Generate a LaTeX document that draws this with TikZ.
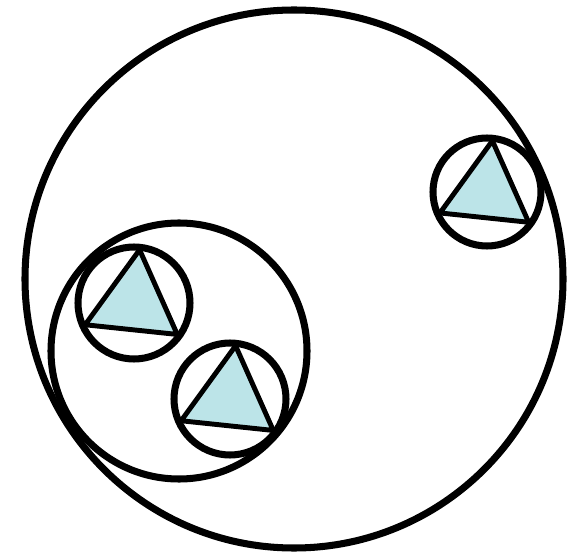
\documentclass[tikz,border=0pt]{standalone}
\usepackage{tikz}
\usetikzlibrary{calc}
\usepackage{xcolor}
\definecolor{TriFill}{HTML}{BCE4E8}
\tikzset{
  ring/.style={draw=black, line width=4pt},
  tri/.style={draw=black, line width=2.8pt, fill=TriFill, line join=round},
}

\begin{document}
\begin{tikzpicture}
    \useasboundingbox (0,0) rectangle (11.6,-11.12);
    \coordinate (outer) at (5.88,-5.58);
    \coordinate (group) at (3.58,-7.02);
    \coordinate (ca) at (2.68,-6.06);
    \coordinate (cb) at (4.60,-7.98);
    \coordinate (cc) at (9.74,-3.84);
    \foreach \c/\r in {ca/1.12, cb/1.12, cc/1.08}{
      \draw[tri, shift={(\c)}] (84:\r-0.05) -- (204:\r-0.05) -- (324:\r-0.05) -- cycle;
      \draw[ring] (\c) circle (\r);
    }
    \draw[ring] (group) circle (2.56);
    \draw[ring] (outer) circle (5.38);
  \end{tikzpicture}
\end{document}
